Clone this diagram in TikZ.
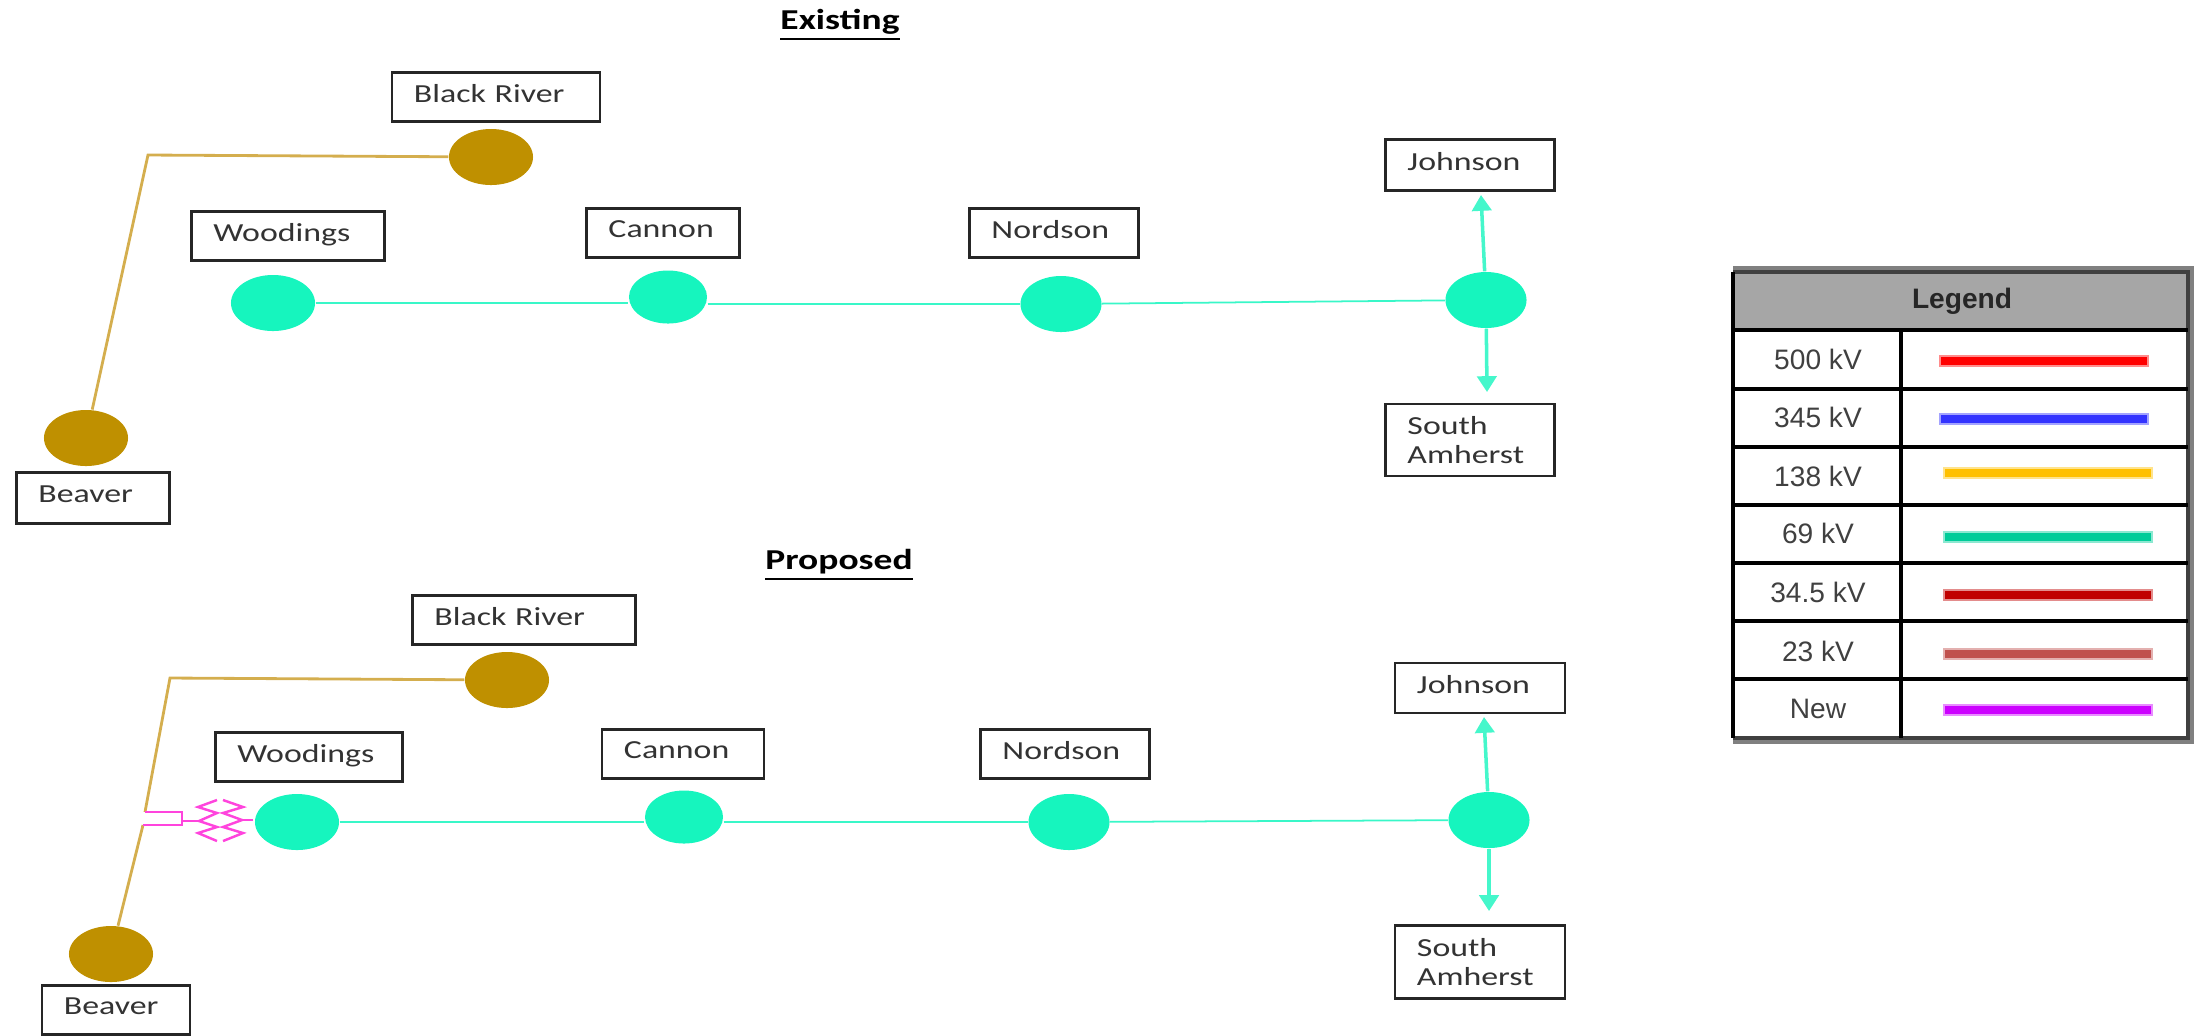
\documentclass[tikz,border=0pt]{standalone}
\usepackage{fontspec}
\setmainfont[FakeStretch=1.3]{Carlito}
\newfontfamily\legendfont{Liberation Sans}
\usetikzlibrary{shapes.geometric,arrows.meta}

\definecolor{busgreen}{RGB}{22,245,190}
\definecolor{busgold}{RGB}{191,144,0}
\definecolor{linegold}{RGB}{212,174,78}
\definecolor{newpink}{RGB}{255,68,221}
\definecolor{headgray}{RGB}{166,166,166}
\definecolor{bara}{RGB}{255,0,0}
\definecolor{barb}{RGB}{51,51,255}
\definecolor{barc}{RGB}{255,192,0}
\definecolor{bard}{RGB}{0,204,153}
\definecolor{bare}{RGB}{192,0,0}
\definecolor{barf}{RGB}{192,80,77}
\definecolor{barg}{RGB}{204,0,255}

\tikzset{
  x=0.01cm,y=-0.01cm,
  bus/.style={ellipse,fill=#1,draw=none,inner sep=0pt,minimum width=0.84cm,minimum height=0.56cm},
  stationbox/.style={draw=black!85,line width=0.7pt,inner ysep=0pt,inner xsep=0.22cm,font=\fontsize{7.4}{8.4}\selectfont,align=left,text=black!80,text width=#1},
  oneline/.style={text depth=2.1pt},
  headline/.style={font=\fontsize{8.2}{10}\selectfont\bfseries,text=black},
  greenline/.style={busgreen!85,line width=0.5pt},
  goldline/.style={linegold,line width=0.8pt},
  greenarrow/.style={busgreen!80,line width=1pt,-{Triangle[width=5.5pt,length=4.5pt]}},
  newline/.style={newpink,line width=0.7pt,line join=miter},
  legendtext/.style={font=\legendfont\fontsize{8}{9}\selectfont,text=black!75},
  legendbar/.style={fill=#1,draw=#1!45,line width=0.7pt,inner sep=0pt,minimum width=2.08cm,minimum height=0.1cm}
}

\begin{document}
\begin{tikzpicture}
  \useasboundingbox (0,0) rectangle (2197,1035);

  % existing
  \node[headline] (titleA) at (840,25) {\underline{Existing}};

  \node[stationbox=1.64cm,oneline,minimum height=0.49cm] (blackA) at (496,97) {Black River};
  \node[stationbox=1.49cm,oneline,minimum height=0.49cm] (woodA) at (288,236) {Woodings};
  \node[stationbox=1.09cm,oneline,minimum height=0.49cm] (cannonA) at (663,233) {Cannon};
  \node[stationbox=1.25cm,oneline,minimum height=0.49cm] (nordA) at (1054,233) {Nordson};
  \node[stationbox=1.25cm,oneline,minimum height=0.51cm] (johnA) at (1470,165) {Johnson};
  \node[stationbox=1.25cm,minimum height=0.72cm] (southA) at (1470,440) {South\\Amherst};
  \node[stationbox=1.09cm,oneline,minimum height=0.51cm] (beavA) at (93,498) {Beaver};

  \node[bus=busgold] (nblackA) at (491,157) {};
  \node[bus=busgold] (nbeavA) at (86,438) {};
  \node[bus=busgreen] (nwoodA) at (273,303) {};
  \node[bus=busgreen,minimum width=0.78cm,minimum height=0.53cm] (ncannonA) at (668,297) {};
  \node[bus=busgreen,minimum width=0.81cm] (nnordA) at (1061,304) {};
  \node[bus=busgreen,minimum width=0.81cm] (njohnA) at (1486,300) {};

  \coordinate (bendA) at (148,155);
  \coordinate (upA) at (1481,195);
  \coordinate (downA) at (1487,392);

  \draw[goldline] (nblackA) -- (bendA) -- (nbeavA);
  \draw[greenline] (nwoodA) -- (nwoodA -| ncannonA.west);
  \draw[greenline] (ncannonA.east |- nnordA) -- (nnordA);
  \draw[greenline] (nnordA) -- (njohnA);
  \draw[greenarrow] (njohnA) -- (upA);
  \draw[greenarrow] (njohnA) -- (downA);

  % proposed
  \node[headline] (titleB) at (839,565) {\underline{Proposed}};

  \node[stationbox=1.79cm,oneline,minimum height=0.49cm] (blackB) at (524,620) {Black River};
  \node[stationbox=1.43cm,oneline,minimum height=0.49cm] (woodB) at (309,757) {Woodings};
  \node[stationbox=1.18cm,oneline,minimum height=0.49cm] (cannonB) at (683,754) {Cannon};
  \node[stationbox=1.25cm,oneline,minimum height=0.49cm] (nordB) at (1065,754) {Nordson};
  \node[stationbox=1.26cm,oneline,minimum height=0.50cm] (johnB) at (1480,688) {Johnson};
  \node[stationbox=1.26cm,minimum height=0.73cm] (southB) at (1480,962) {South\\Amherst};
  \node[stationbox=1.04cm,oneline,minimum height=0.49cm] (beavB) at (116,1010) {Beaver};

  \node[bus=busgold] (nblackB) at (507,680) {};
  \node[bus=busgold] (nbeavB) at (111,954) {};
  \node[bus=busgreen] (nwoodB) at (297,822) {};
  \node[bus=busgreen,minimum width=0.78cm,minimum height=0.53cm] (ncannonB) at (684,817) {};
  \node[bus=busgreen,minimum width=0.81cm] (nnordB) at (1069,822) {};
  \node[bus=busgreen,minimum width=0.81cm] (njohnB) at (1489,820) {};

  \coordinate (bendB) at (170,678);
  \coordinate (tapTop) at (145,812);
  \coordinate (tapLow) at (143,825);
  \coordinate (tapTopR) at (182,812);
  \coordinate (tapLowR) at (182,825);
  \coordinate (tapMid) at (182,821);
  \coordinate (coilEnd) at (253,820);
  \coordinate (upB) at (1484,717);
  \coordinate (downB) at (1489,911);

  \draw[goldline] (nblackB) -- (bendB) -- (tapTop);
  \draw[goldline] (tapLow) -- (nbeavB);
  \draw[greenline] (nwoodB) -- (nwoodB -| ncannonB.west);
  \draw[greenline] (ncannonB.east |- nnordB) -- (nnordB);
  \draw[greenline] (nnordB) -- (njohnB);
  \draw[greenarrow] (njohnB) -- (upB);
  \draw[greenarrow] (njohnB) -- (downB);

  % transformer
  \draw[newline] (tapTop) -- (tapTopR) -- (tapLowR) -- (tapLow);
  \draw[newline] (tapMid) -- (199,821);
  \draw[newline] (217,800) -- (198,807) -- (217,813) -- (199,821) -- (217,827) -- (198,833) -- (217,841);
  \draw[newline] (223,800) -- (243,807) -- (223,813) -- (242,820) -- (223,827) -- (243,833) -- (223,841);
  \draw[newline] (242,820) -- (coilEnd);

  % legend
  \node[fill=headgray,draw=none,minimum width=4.55cm,minimum height=0.58cm,inner sep=0pt] (legendhead) at (1960,301) {};
  \node[font=\legendfont\fontsize{8}{9}\selectfont\bfseries,text=black!85] (legendtitle) at (1962,301) {Legend};
  \foreach \rowname/\lbl/\col/\ypos/\xbar/\ybar in {a/500 kV/bara/359/2044/361,b/345 kV/barb/417/2044/419,c/138 kV/barc/476/2048/473,
      d/69 kV/bard/533/2048/537,e/34.5 kV/bare/592/2048/595,f/23 kV/barf/651/2048/654,g/New/barg/709/2048/710}{
    \node[legendtext] (lbl\rowname) at (1818,\ypos) {\lbl};
    \node[legendbar=\col] (bar\rowname) at (\xbar,\ybar) {};
  }
  \draw[black!50,line width=1.6pt] (1733,269) -- (2191,269) -- (2191,741) -- (1733,741);
  \draw[black!75,line width=1pt] (1733,272) -- (2188,272) -- (2188,738) -- (1733,738);
  \draw[black,line width=1.2pt] (1733,272) -- (1733,738);
  \foreach \yline in {330,389,447,505,563,621,679}{
    \draw[black,line width=0.9pt] (1733,\yline) -- (2188,\yline);
  }
  \draw[black,line width=1pt] (1901,330) -- (1901,738);
\end{tikzpicture}
\end{document}
